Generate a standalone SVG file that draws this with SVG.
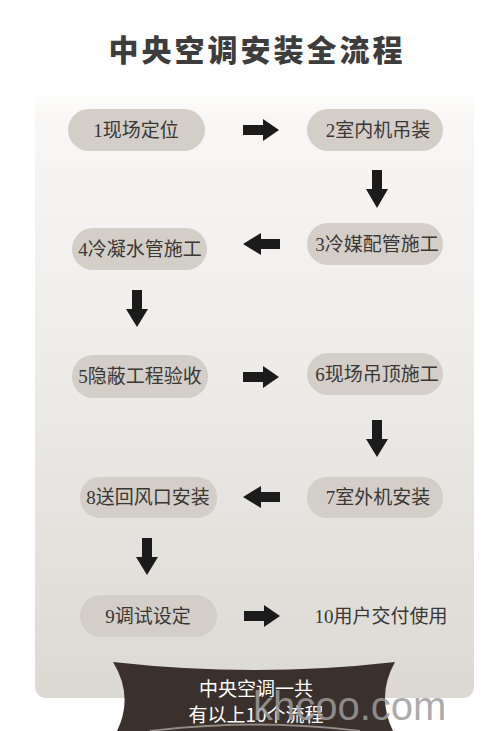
<svg xmlns="http://www.w3.org/2000/svg" width="500" height="731" viewBox="0 0 500 731">
<defs>
<linearGradient id="panelGrad" x1="0" y1="0" x2="0" y2="1">
<stop offset="0" stop-color="#ffffff"/>
<stop offset="0.05" stop-color="#f8f7f6"/>
<stop offset="0.45" stop-color="#eeece9"/>
<stop offset="1" stop-color="#dcd9d3"/>
</linearGradient>
<style>
.pill{fill:#d3cec8}
.lbl{font-family:"Liberation Serif","Noto Sans CJK SC",serif;font-size:19px;fill:#3a3736;text-anchor:middle}
.arr{fill:#1b1b1b}
.title{font-family:"Noto Sans CJK SC",sans-serif;font-weight:900;font-size:30px;fill:#3d3d3d;text-anchor:middle;letter-spacing:3px}
.rib{font-family:"Noto Sans CJK SC",sans-serif;font-size:19px;fill:#ffffff;text-anchor:middle}
.wm{font-family:"Liberation Sans",Arial,sans-serif;font-size:40px;fill:#9c9c9c;fill-opacity:0.85}
</style>
</defs>
<rect width="500" height="731" fill="#ffffff"/>
<rect x="35" y="88" width="439" height="610" rx="11" fill="url(#panelGrad)"/>
<text class="title" x="257" y="61">中央空调安装全流程</text>

<g id="connectors">
<polygon class="arr" points="243,125 263,125 263,119 279,130 263,141 263,135 243,135"/>
<polygon class="arr" points="372,170 382,170 382,189 388,189 377,208 366,189 372,189"/>
<polygon class="arr" points="280,239 261,239 261,233 243,244 261,255 261,249 280,249"/>
<polygon class="arr" points="132,290 142,290 142,309 148,309 137,327 126,309 132,309"/>
<polygon class="arr" points="243,372 263,372 263,366 279,377 263,388 263,382 243,382"/>
<polygon class="arr" points="372,420 382,420 382,439 388,439 377,457 366,439 372,439"/>
<polygon class="arr" points="280,492 261,492 261,486 243,497 261,508 261,502 280,502"/>
<polygon class="arr" points="142,538 152,538 152,557 158,557 147,575 136,557 142,557"/>
<polygon class="arr" points="244,611 264,611 264,605 280,616 264,627 264,621 244,621"/>
</g>

<g id="n1"><rect class="pill" x="68" y="109" width="137" height="42" rx="21"/><text class="lbl" x="136" y="137">1现场定位</text></g>
<g id="n2"><rect class="pill" x="307" y="109" width="136" height="42" rx="21"/><text class="lbl" x="378" y="137">2室内机吊装</text></g>
<g id="n3"><rect class="pill" x="307" y="223" width="136" height="42" rx="21"/><text class="lbl" x="377" y="251">3冷媒配管施工</text></g>
<g id="n4"><rect class="pill" x="72" y="228" width="135" height="42" rx="21"/><text class="lbl" x="140" y="256">4冷凝水管施工</text></g>
<g id="n5"><rect class="pill" x="72" y="355" width="136" height="43" rx="21"/><text class="lbl" x="140" y="383">5隐蔽工程验收</text></g>
<g id="n6"><rect class="pill" x="307" y="353" width="136" height="42" rx="21"/><text class="lbl" x="377" y="381">6现场吊顶施工</text></g>
<g id="n7"><rect class="pill" x="307" y="477" width="136" height="41" rx="20"/><text class="lbl" x="378" y="504">7室外机安装</text></g>
<g id="n8"><rect class="pill" x="80" y="477" width="137" height="41" rx="20"/><text class="lbl" x="148" y="504">8送回风口安装</text></g>
<g id="n9"><rect class="pill" x="80" y="595" width="137" height="42" rx="21"/><text class="lbl" x="148" y="623">9调试设定</text></g>
<g id="n10"><text class="lbl" x="381" y="623">10用户交付使用</text></g>

<g id="ribbon">
<path d="M113,662 Q256,678 395,662 Q376,696 393,731 L117,731 Q134,696 113,662 Z" fill="#3a312d"/>
<path d="M150,731 Q256,718 360,731" fill="none" stroke="#cfcac4" stroke-width="2" stroke-opacity="0.6"/>
<text class="rib" x="256" y="696">中央空调一共</text>
<text class="rib" x="256" y="722">有以上10个流程</text>
</g>
<text class="wm" x="253" y="720">khcoo.com</text>
</svg>
